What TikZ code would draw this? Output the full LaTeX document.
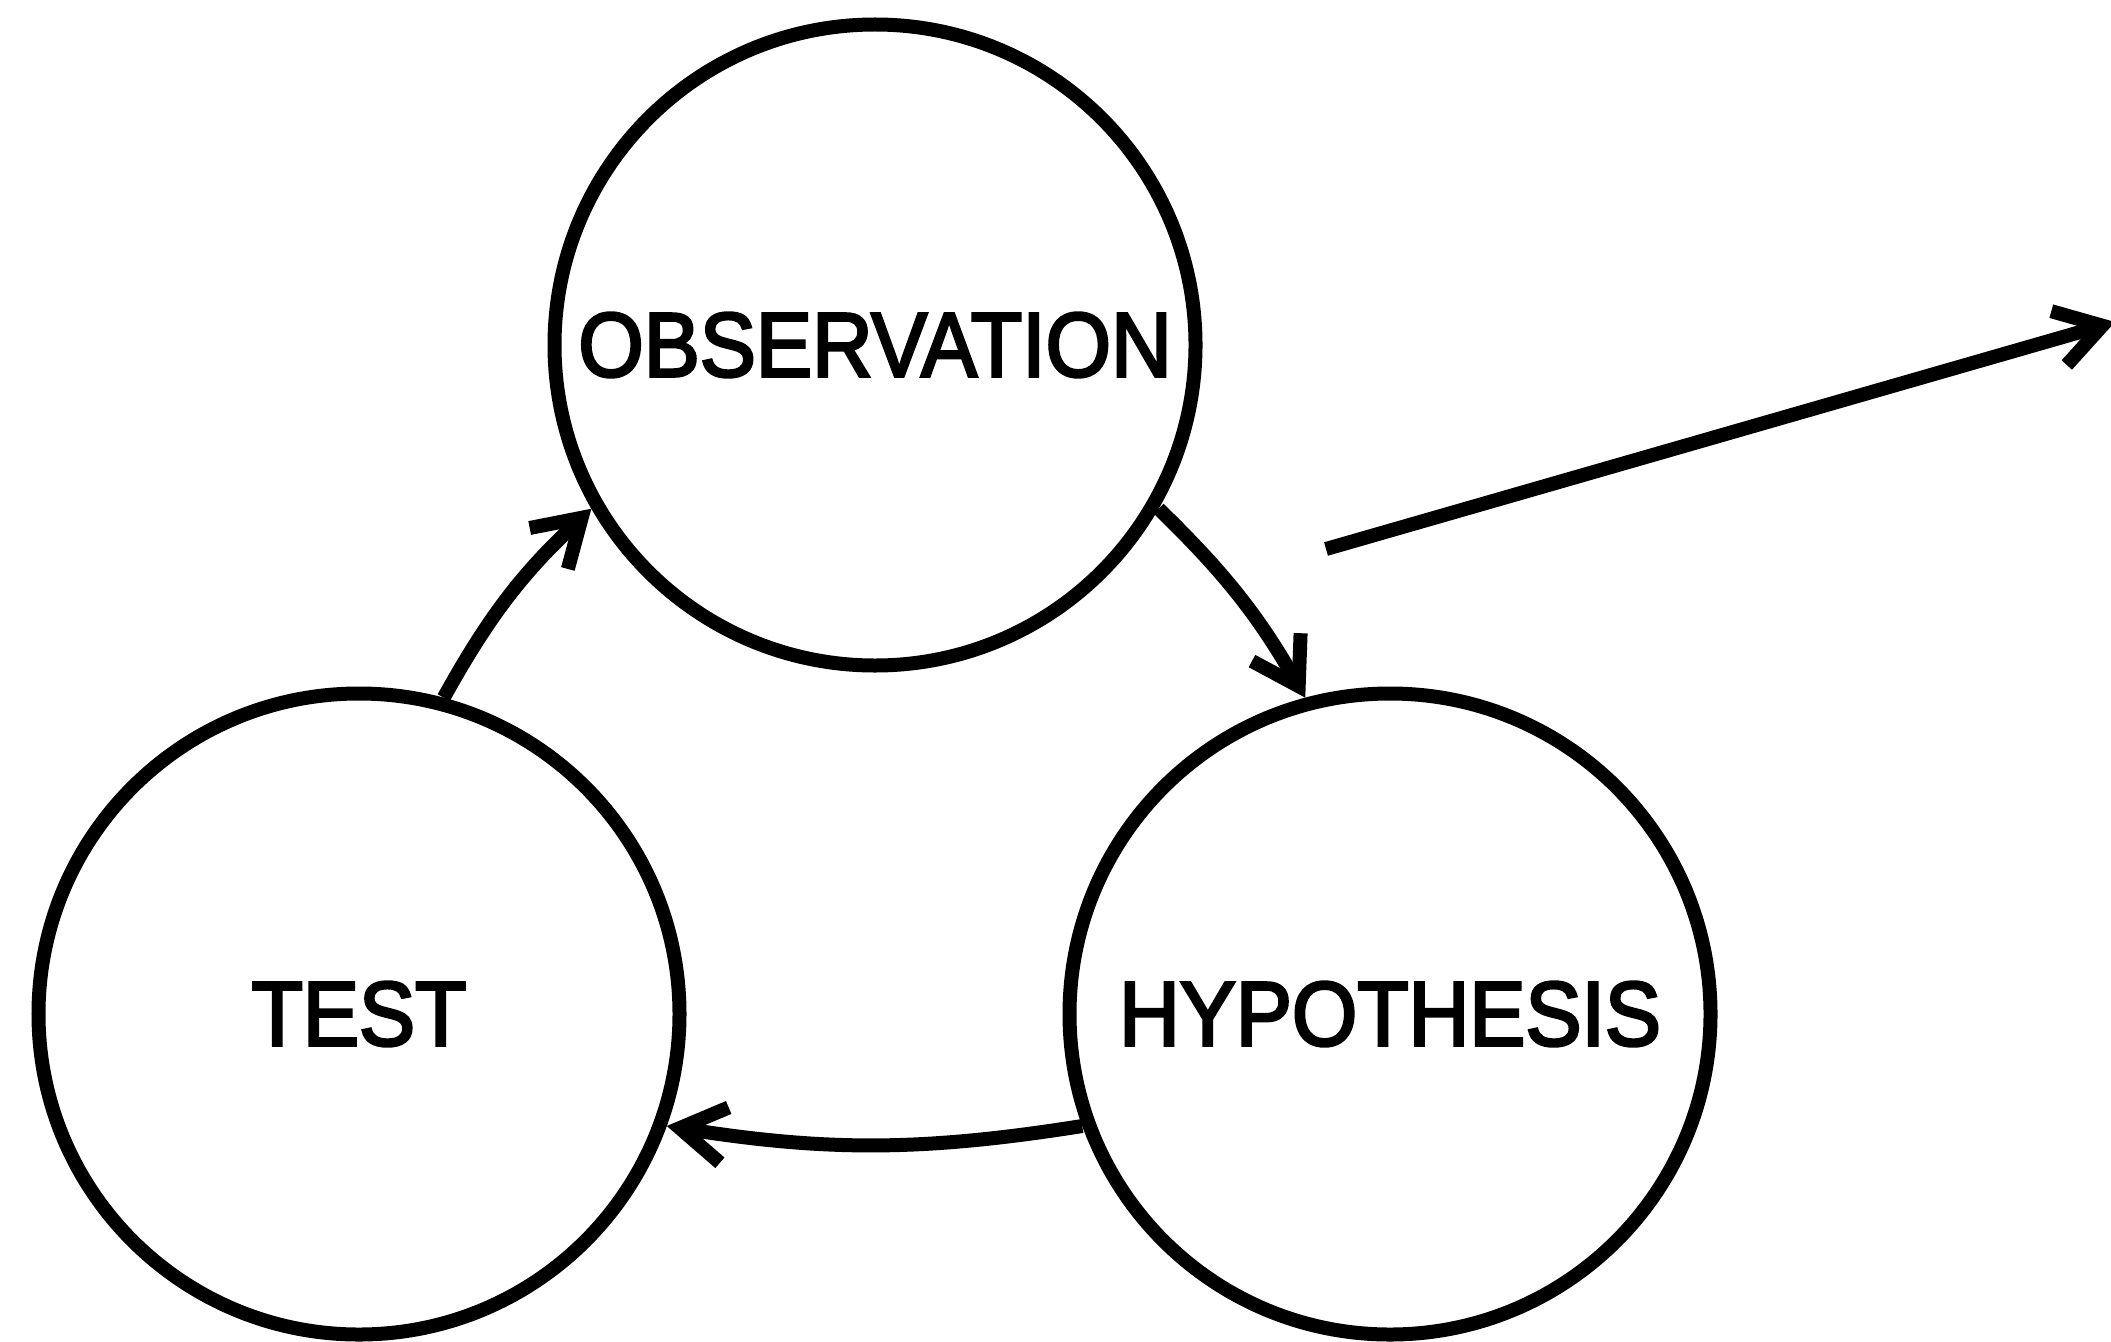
\documentclass[tikz,border=0pt]{standalone}
\usepackage{fontspec}
\setmainfont{Liberation Sans}[FakeStretch=0.92,FakeBold=3]
\usetikzlibrary{arrows.meta}

\begin{document}
\begin{tikzpicture}[line width=0.14cm, >={Straight Barb[sharp,length=0.45cm,width=0.56cm]},
  stage/.style={circle, draw, minimum size=6.41cm, inner sep=0, font=\fontsize{26}{30}\selectfont}]
\useasboundingbox (0,0) rectangle (21.11,13.41);
\node[stage] (obs) at (8.75,9.96) {OBSERVATION};
\node[stage] (test) at (3.59,3.27) {TEST};
\node[stage] (hyp) at (13.90,3.27) {HYPOTHESIS};
\draw[->] (test.75) to[bend left=9] (obs.210);
\draw[->] (obs.330) to[bend left=8] (hyp.105);
\draw[->] (hyp.200) to[bend left=9] (test.340);
\coordinate (out) at (13.26,7.92);
\coordinate (beyond) at (21.15,10.19);
\draw[->] (out) -- (beyond);
\end{tikzpicture}
\end{document}
